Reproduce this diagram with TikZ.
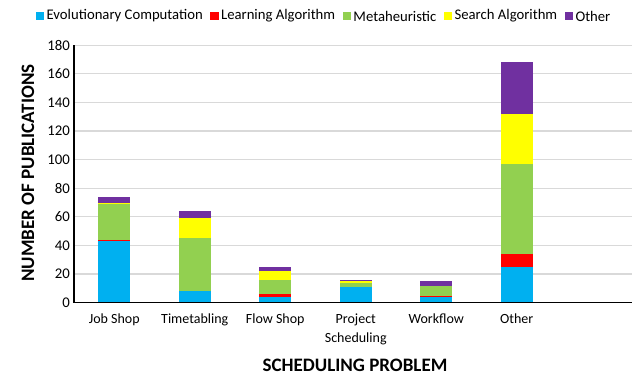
\documentclass[tikz,border=0pt]{standalone}
\usepackage{fontspec}
\setmainfont{Carlito}
\usetikzlibrary{positioning}

\definecolor{evocolor}{HTML}{00B0F0}
\definecolor{learncolor}{HTML}{FF0000}
\definecolor{metacolor}{HTML}{92D050}
\definecolor{searchcolor}{HTML}{FFFF00}
\definecolor{othercolor}{HTML}{7030A0}
\definecolor{gridcolor}{HTML}{D9D9D9}

\tikzset{gridline/.style={gridcolor, line width=1.2pt}}
\tikzset{axisline/.style={black, line width=1.4pt}}
\tikzset{ticklabel/.style={anchor=east, inner sep=0pt, xshift=-4pt, font=\fontsize{14.8}{16}\selectfont}}
\tikzset{catlabel/.style={anchor=north, inner sep=0pt, yshift=-11pt, align=center, font=\fontsize{14}{18.5}\selectfont}}
\tikzset{axistitle/.style={inner sep=0pt, font=\bfseries\fontsize{19}{21}\selectfont}}
\tikzset{legendbox/.style={rectangle, minimum size=8.5pt, inner sep=0pt}}
\tikzset{legendtext/.style={inner sep=0pt, font=\fontsize{14.7}{17}\selectfont}}

\begin{document}
\begin{tikzpicture}[x=1pt, y=1pt]
		\useasboundingbox (0,0) rectangle (641,375);

		%legend
		\node[legendbox, fill=evocolor] (evobox) at (40,359) {};
		\node[legendtext, right=2pt of evobox] (evotext) {Evolutionary Computation};
		\node[legendbox, fill=learncolor, right=7pt of evotext] (learnbox) {};
		\node[legendtext, right=2pt of learnbox] (learntext) {Learning Algorithm};
		\node[legendbox, fill=metacolor, right=7pt of learntext] (metabox) {};
		\node[legendtext, right=2pt of metabox] (metatext) {Metaheuristic};
		\node[legendbox, fill=searchcolor, right=7pt of metatext] (searchbox) {};
		\node[legendtext, right=2pt of searchbox] (searchtext) {Search Algorithm};
		\node[legendbox, fill=othercolor, right=7pt of searchtext] (otherbox) {};
		\node[legendtext, right=2pt of otherbox] (othertext) {Other};

		%axis titles
		\node[axistitle, rotate=90] (ytitle) at (28,202) {NUMBER OF PUBLICATIONS};
		\node[axistitle] (xtitle) at (355,10) {SCHEDULING PROBLEM};

		\begin{scope}[shift={(74,72.3)}, x=80.5pt, y=1.43pt]
		%grid
		\draw[gridline] (0,20) -- (6.93,20) (0,40) -- (6.93,40) (0,60) -- (6.93,60);
		\draw[gridline] (0,80) -- (6.93,80) (0,100) -- (6.93,100) (0,120) -- (6.93,120);
		\draw[gridline] (0,140) -- (6.93,140) (0,160) -- (6.93,160) (0,180) -- (6.93,180);

		%job shop
		\fill[evocolor] (0.3,0) rectangle (0.7,43);
		\fill[learncolor] (0.3,43) rectangle (0.7,44);
		\fill[metacolor] (0.3,44) rectangle (0.7,69);
		\fill[searchcolor] (0.3,69) rectangle (0.7,70);
		\fill[othercolor] (0.3,70) rectangle (0.7,74);

		%timetabling
		\fill[evocolor] (1.3,0) rectangle (1.7,8);
		\fill[metacolor] (1.3,8) rectangle (1.7,45);
		\fill[searchcolor] (1.3,45) rectangle (1.7,59);
		\fill[othercolor] (1.3,59) rectangle (1.7,64);

		%flow shop
		\fill[evocolor] (2.3,0) rectangle (2.7,4);
		\fill[learncolor] (2.3,4) rectangle (2.7,6);
		\fill[metacolor] (2.3,6) rectangle (2.7,16);
		\fill[searchcolor] (2.3,16) rectangle (2.7,22);
		\fill[othercolor] (2.3,22) rectangle (2.7,25);

		%project scheduling
		\fill[evocolor] (3.3,0) rectangle (3.7,11);
		\fill[metacolor] (3.3,11) rectangle (3.7,14);
		\fill[searchcolor] (3.3,14) rectangle (3.7,15);
		\fill[othercolor] (3.3,15) rectangle (3.7,16);

		%workflow
		\fill[evocolor] (4.3,0) rectangle (4.7,4);
		\fill[learncolor] (4.3,4) rectangle (4.7,5);
		\fill[metacolor] (4.3,5) rectangle (4.7,12);
		\fill[othercolor] (4.3,12) rectangle (4.7,15);

		%other
		\fill[evocolor] (5.3,0) rectangle (5.7,25);
		\fill[learncolor] (5.3,25) rectangle (5.7,34);
		\fill[metacolor] (5.3,34) rectangle (5.7,97);
		\fill[searchcolor] (5.3,97) rectangle (5.7,132);
		\fill[othercolor] (5.3,132) rectangle (5.7,168);

		%axes
		\coordinate (origin) at (0,0);
		\coordinate (xend) at (6.93,0);
		\coordinate (yend) at (0,180);
		\draw[axisline] (yend) -- (origin) -- (xend);

		%tick labels
		\node[ticklabel] (tick0) at (0,0) {0};
		\node[ticklabel] (tick20) at (0,20) {20};
		\node[ticklabel] (tick40) at (0,40) {40};
		\node[ticklabel] (tick60) at (0,60) {60};
		\node[ticklabel] (tick80) at (0,80) {80};
		\node[ticklabel] (tick100) at (0,100) {100};
		\node[ticklabel] (tick120) at (0,120) {120};
		\node[ticklabel] (tick140) at (0,140) {140};
		\node[ticklabel] (tick160) at (0,160) {160};
		\node[ticklabel] (tick180) at (0,180) {180};

		%categories
		\node[catlabel] (jobshop) at (0.5,0) {Job Shop};
		\node[catlabel] (timetab) at (1.5,0) {Timetabling};
		\node[catlabel] (flowshop) at (2.5,0) {Flow Shop};
		\node[catlabel] (project) at (3.5,0) {Project\\Scheduling};
		\node[catlabel] (workflow) at (4.5,0) {Workflow};
		\node[catlabel] (othercat) at (5.5,0) {Other};
		\end{scope}
	\end{tikzpicture}
\end{document}
